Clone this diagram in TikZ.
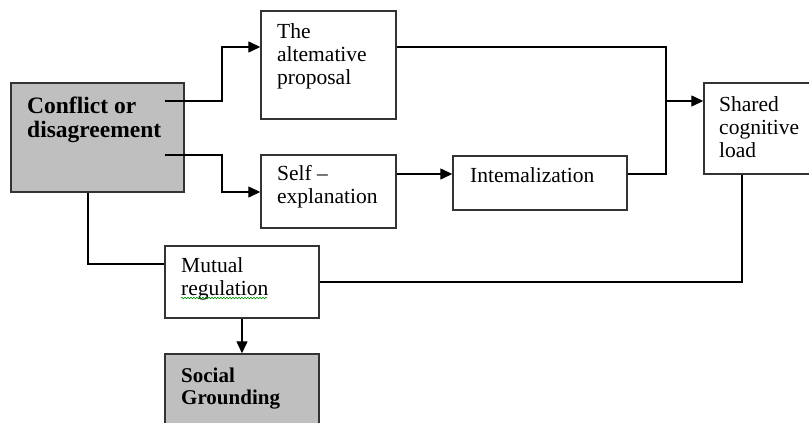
\documentclass[tikz,border=0pt]{standalone}
\usepackage{fontspec}
\setmainfont{Liberation Serif}
\usetikzlibrary{arrows.meta,fit,decorations.pathmorphing}

% multi-line labels are placed by the baseline of their last line
\tikzset{
  box/.style={draw=black!80, line width=1.4pt, inner sep=0pt},
  grey/.style={box, fill=black!25},
  txt/.style={anchor=base west, inner sep=0pt, align=left,
    font=\fontsize{21.5}{23}\selectfont},
  boldtxt/.style={txt, font=\fontsize{23.5}{24}\selectfont\bfseries},
  link/.style={line width=1.3pt, black},
  arr/.style={link, -{Triangle[length=12pt,width=11pt]}},
}

\begin{document}
\begin{tikzpicture}[x=1pt,y=-1pt]
\useasboundingbox (0,0) rectangle (809,423);
\clip (0,0) rectangle (809,423);

% boxes
\node[grey, fit={(11,83) (184,192)}] (conf) {};
\node[box,  fit={(261,11) (396,119)}] (alt) {};
\node[box,  fit={(261,155) (396,228)}] (self) {};
\node[box,  fit={(453,156) (627,210)}] (intern) {};
\node[box,  fit={(704,83) (815,174)}] (shared) {};
\node[box,  fit={(165,246) (319,318)}] (mutual) {};
\node[grey, fit={(165,354) (319,440)}] (social) {};

% labels
\node[boldtxt] (confT) at (27,137) {Conflict or\\disagreement};
\node[txt] (altT) at (277,84) {The\\altemative\\proposal};
\node[txt] (selfT) at (277,203) {Self –\\explanation};
\node[txt] (internT) at (470,182) {Intemalization};
\node[txt] (sharedT) at (719,157) {Shared\\cognitive\\load};
\node[txt] (mutualT) at (181,295) {Mutual\\regulation};
\node[boldtxt, font=\fontsize{21}{22}\selectfont\bfseries] (socialT) at (181,404) {Social\\Grounding};

% spell-check squiggle under "regulation"
\draw[green!55!black, line width=0.6pt,
  decorate, decoration={snake, amplitude=0.8pt, segment length=3pt}]
  (181,298) -- (267,298);

% connector points
\coordinate (c1) at (165,101);
\coordinate (c2) at (165,155);
\coordinate (j1) at (666,47);
\coordinate (j2) at (666,174);
\coordinate (j3) at (666,101);
\coordinate (m1) at (88,264);
\coordinate (m2) at (742,282);

% connectors
\draw[arr] (c1) -- (222,101) |- (alt.west |- 0,47);
\draw[arr] (c2) -- (222,155) |- (self.west |- 0,192);
\draw[link] (alt.east |- j1) -- (j1) -- (j2) -- (intern.east |- j2);
\draw[arr] (self.east |- 0,174) -- (intern.west |- 0,174);
\draw[arr] (j3) -- (shared.west |- j3);
\draw[link] (conf.south -| m1) -- (m1) -- (mutual.west |- m1);
\draw[link] (shared.south -| m2) -- (m2) -- (mutual.east |- m2);
\draw[arr] (mutual.south -| 242,0) -- (social.north -| 242,0);
\end{tikzpicture}
\end{document}
